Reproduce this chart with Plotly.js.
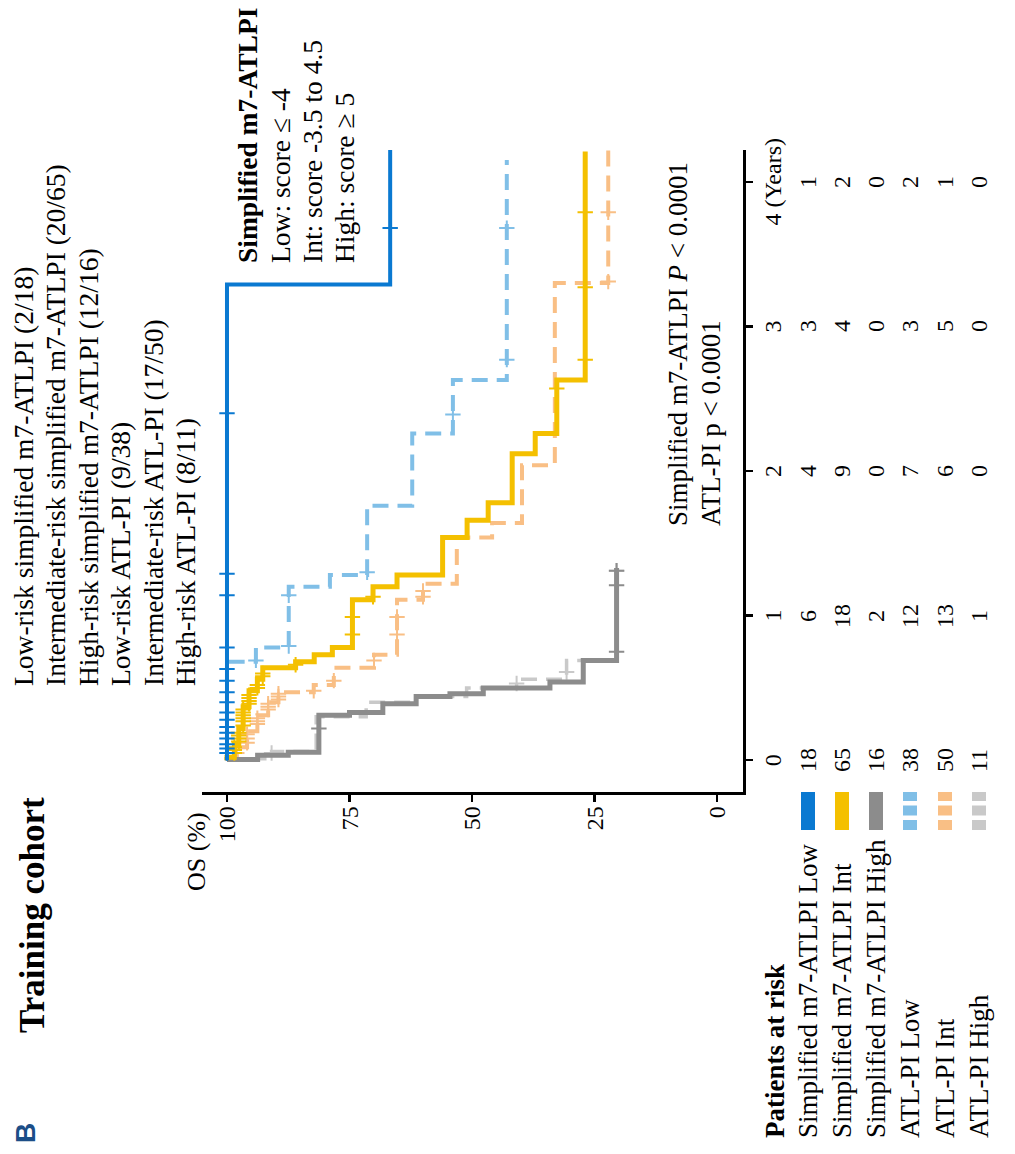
<!DOCTYPE html>
<html>
<head>
<meta charset="utf-8">
<script src="https://cdn.plot.ly/plotly-3.0.1.min.js"></script>
<style>
html,body{margin:0;padding:0;background:#fff;width:1015px;height:1154px;overflow:hidden;}
#wrap{position:absolute;left:0;top:0;width:1154px;height:1015px;transform-origin:0 0;transform:translate(0px,1154px) rotate(-90deg);}
#chart{width:1154px;height:1015px;}
</style>
</head>
<body>
<div id="wrap"><div id="chart"></div></div>
<script>
// ---------- DATA (time in years, overall survival in %) ----------
const timeTicks = [0, 1, 2, 3, 4];
const timeTickText = ['0', '1', '2', '3', '4 (Years)'];
const osTicks = [0, 25, 50, 75, 100];

// Simplified m7-ATLPI Low
const sLowT = [0, 3.29, 4.22];
const sLowS = [100, 66.7, 66.7];
const sLowCens = [0.05, 0.08, 0.11, 0.15, 0.19, 0.23, 0.28, 0.33, 0.40, 0.47, 0.55, 0.63, 0.78, 1.14, 1.29, 2.40, 3.68];

// Simplified m7-ATLPI Int
const sIntT = [0, 0.02, 0.11, 0.22, 0.37, 0.48, 0.56, 0.64, 0.68, 0.73, 0.78, 1.11, 1.20, 1.28, 1.54, 1.66, 1.78, 2.12, 2.26, 2.63, 4.21];
const sIntS = [100, 98.5, 97.6, 96.7, 95.5, 93.8, 92.7, 86.0, 82.2, 78.5, 74.4, 70.2, 65.3, 56.0, 51.0, 46.7, 41.8, 37.1, 32.7, 26.9, 26.9];
const sIntCens = [0.05, 0.07, 0.09, 0.13, 0.15, 0.17, 0.19, 0.24, 0.27, 0.29, 0.31, 0.33, 0.35, 0.39, 0.41, 0.43, 0.45, 0.50, 0.52, 0.58, 0.60, 0.66, 0.87, 0.99, 1.13, 2.57, 2.77, 3.27, 3.79];

// Simplified m7-ATLPI High
const sHighT = [0, 0.005, 0.035, 0.055, 0.31, 0.33, 0.39, 0.44, 0.46, 0.50, 0.54, 0.69, 1.33];
const sHighS = [100, 93.75, 87.5, 81.25, 75.0, 68.2, 61.4, 54.5, 47.7, 34.1, 27.3, 20.5, 20.5];
const sHighCens = [0.22, 0.75, 1.21, 1.31];

// ATL-PI Low
const aLowT = [0, 0.68, 0.78, 1.20, 1.28, 1.76, 2.26, 2.63, 4.15];
const aLowS = [100, 94.1, 87.4, 79.0, 71.4, 62.2, 53.9, 42.9, 42.9];
const aLowCens = [0.69, 0.79, 1.14, 1.30, 2.39, 2.77, 3.68];

// ATL-PI Int
const aIntT = [0, 0.02, 0.09, 0.20, 0.31, 0.40, 0.47, 0.52, 0.64, 0.73, 1.11, 1.22, 1.54, 1.64, 2.04, 3.30, 4.22];
const aIntS = [100, 98.0, 95.9, 93.8, 91.6, 89.5, 82.3, 78.2, 70.0, 65.3, 60.0, 53.1, 45.9, 39.8, 33.1, 22.2, 22.2];
const aIntCens = [0.05, 0.12, 0.15, 0.18, 0.25, 0.27, 0.29, 0.35, 0.37, 0.39, 0.42, 0.44, 0.46, 0.48, 0.55, 0.69, 0.87, 0.99, 1.13, 1.17, 3.31, 3.79];

// ATL-PI High
const aHighT = [0, 0.01, 0.06, 0.30, 0.40, 0.44, 0.50, 0.56, 0.69, 1.31];
const aHighS = [100, 90.9, 81.8, 71.6, 61.4, 51.1, 40.9, 30.7, 20.5, 20.5];
const aHighCens = [0.05, 0.53, 0.61, 1.31];

// Legend / risk table
const legendLines = [
  'Low-risk simplified m7-ATLPI (2/18)',
  'Intermediate-risk simplified m7-ATLPI (20/65)',
  'High-risk simplified m7-ATLPI (12/16)',
  'Low-risk ATL-PI (9/38)',
  'Intermediate-risk ATL-PI (17/50)',
  'High-risk ATL-PI (8/11)'
];
const scoreTitle = 'Simplified m7-ATLPI';
const scoreLines = ['Low: score \u2264 -4', 'Int: score -3.5 to 4.5', 'High: score \u2265 5'];
const pLines = ['Simplified m7-ATLPI <i>P</i> < 0.0001', 'ATL-PI p < 0.0001'];
const riskLabels = ['Simplified m7-ATLPI Low', 'Simplified m7-ATLPI Int', 'Simplified m7-ATLPI High', 'ATL-PI Low', 'ATL-PI Int', 'ATL-PI High'];
const riskCounts = [
  [18, 6, 4, 3, 1],
  [65, 18, 9, 4, 2],
  [16, 2, 0, 0, 0],
  [38, 12, 7, 3, 2],
  [50, 13, 6, 5, 1],
  [11, 1, 0, 0, 0]
];

// ---------- STYLE ----------
const C = {
  sLow: '#0a79d1', sInt: '#f4c000', sHigh: '#8c8c8c',
  aLow: '#80bfe7', aInt: '#f9bf85', aHigh: '#c9c9c9'
};
const SERIF = 'Liberation Serif, Times New Roman, serif';

function stepVal(T, S, t) {
  let v = S[0];
  for (let i = 0; i < T.length; i++) { if (T[i] <= t) v = S[i]; }
  return v;
}
function curve(T, S, color, width, dash) {
  return {x: T, y: S, type: 'scatter', mode: 'lines', hoverinfo: 'skip',
    line: {shape: 'hv', color: color, width: width, dash: dash || 'solid'}};
}
function cens(T, S, times, color) {
  return {x: times, y: times.map(t => stepVal(T, S, t)), type: 'scatter', mode: 'markers', hoverinfo: 'skip',
    marker: {symbol: 'cross-thin', size: 11, color: color, line: {width: 2, color: color}}};
}
const DASH = '16px,9px';
const traces = [
  curve(aHighT, aHighS, C.aHigh, 3.5, DASH), cens(aHighT, aHighS, aHighCens, C.aHigh),
  curve(aLowT, aLowS, C.aLow, 4, DASH), cens(aLowT, aLowS, aLowCens, C.aLow),
  curve(aIntT, aIntS, C.aInt, 4, DASH), cens(aIntT, aIntS, aIntCens, C.aInt),
  curve(sHighT, sHighS, C.sHigh, 5, null), cens(sHighT, sHighS, sHighCens, C.sHigh),
  curve(sIntT, sIntS, C.sInt, 5, null), cens(sIntT, sIntS, sIntCens, C.sInt),
  curve(sLowT, sLowS, C.sLow, 4, null), cens(sLowT, sLowS, sLowCens, C.sLow)
];

// ---------- LAYOUT ----------
const W = 1154, H = 1015;
const L = 362, T = 202, PW = 642, PH = 541;
const px = u => (u - L) / PW;
const py = v => (T + PH - v) / PH;

function txt(text, u, v, size, opts) {
  opts = opts || {};
  return {text: text, xref: 'paper', yref: 'paper', x: px(u), y: py(v),
    xanchor: opts.xanchor || 'left', yanchor: 'middle', showarrow: false,
    font: {family: opts.family || SERIF, size: size, color: opts.color || '#000'}};
}
const ann = [];
ann.push(txt('<b>B</b>', 9, 25.5, 28, {family: 'Liberation Sans, Arial, sans-serif', color: '#1c4e87'}));
ann.push(txt('<b>Training cohort</b>', 119, 32, 35));
const legV = [23.5, 55.9, 88.3, 120.7, 153.1, 185.5];
legendLines.forEach((s, i) => ann.push(txt(s, 466, legV[i], 27.5)));
ann.push(txt('<b>' + scoreTitle + '</b>', 889, 247.5, 27.5));
const scV = [280, 312.4, 344.8];
scoreLines.forEach((s, i) => ann.push(txt(s, 889, scV[i], 27.5)));
const pV = [677.5, 710.5];
pLines.forEach((s, i) => ann.push(txt(s, 626, pV[i], 27)));
ann.push(txt('OS (%)', 261, 196, 26));
ann.push(txt('<b>Patients at risk</b>', 14, 775, 27));
const rowV = [808, 842, 876, 910, 945, 979];
riskLabels.forEach((s, i) => ann.push(txt(s, 14, rowV[i], 27)));
riskCounts.forEach((row, i) => {
  row.forEach((n, j) => {
    ann.push({text: String(n), xref: 'x', yref: 'paper', x: timeTicks[j], y: py(rowV[i]),
      xanchor: 'center', yanchor: 'middle', showarrow: false,
      font: {family: SERIF, size: 24, color: '#000'}});
  });
});

const swColors = [C.sLow, C.sInt, C.sHigh, C.aLow, C.aInt, C.aHigh];
const shapes = swColors.map((c, i) => ({
  type: 'line', xref: 'paper', yref: 'paper', x0: px(324), x1: px(362), y0: py(rowV[i]), y1: py(rowV[i]),
  line: {color: c, width: 14, dash: i < 3 ? 'solid' : '10px,4.5px'}
}));

const axisCommon = {showline: true, linewidth: 2.5, linecolor: '#000', ticks: 'outside', ticklen: 7,
  tickwidth: 2.5, tickcolor: '#000', showgrid: false, zeroline: false, fixedrange: true,
  tickfont: {family: SERIF, size: 24, color: '#000'}};

const layout = {
  width: W, height: H,
  margin: {l: L, r: W - L - PW, t: T, b: H - T - PH, pad: 0},
  paper_bgcolor: '#fff', plot_bgcolor: '#fff',
  showlegend: false,
  font: {family: SERIF, size: 24, color: '#000'},
  xaxis: Object.assign({}, axisCommon, {range: [-0.22, 4.22], tickvals: timeTicks, ticktext: timeTickText}),
  yaxis: Object.assign({}, axisCommon, {range: [-5.3, 105.1], tickvals: osTicks}),
  annotations: ann,
  shapes: shapes
};

Plotly.newPlot('chart', traces, layout, {displayModeBar: false, staticPlot: true});
</script>
</body>
</html>
